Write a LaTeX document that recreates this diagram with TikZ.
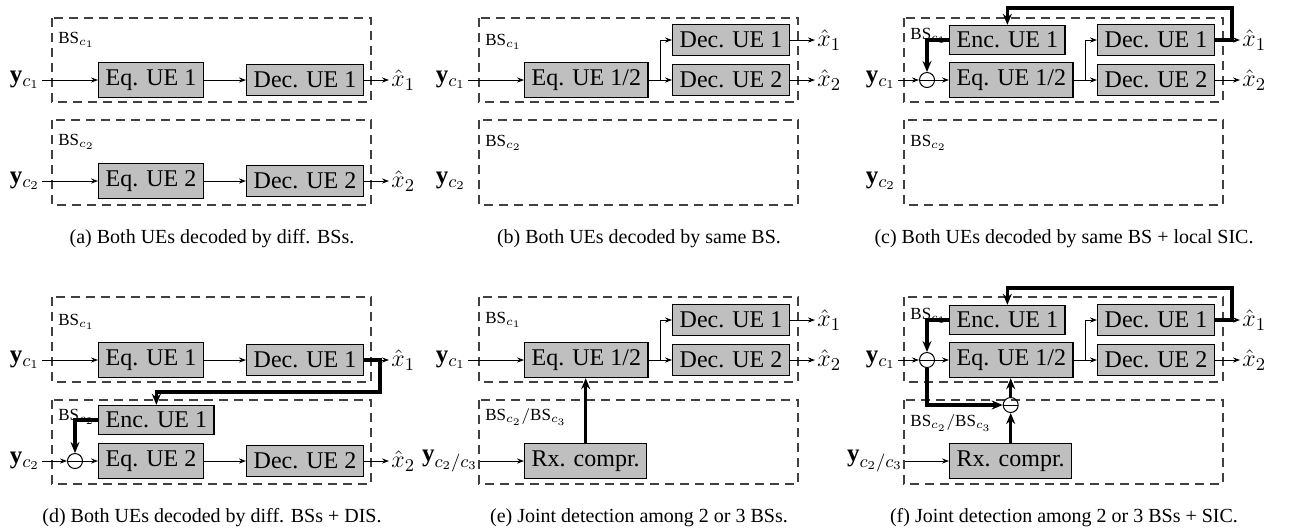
\documentclass[tikz,border=0pt]{standalone}
\usepackage{fontspec}
\setmainfont{Liberation Serif}
\usetikzlibrary{arrows.meta}
\begin{document}
\begin{tikzpicture}[x=0.5pt,y=-0.5pt,
    blk/.style={draw=black,line width=0.7pt,fill=black!25,inner xsep=3.5pt,inner ysep=0pt,anchor=west,font=\fontsize{12}{14}\selectfont},
    eqblk/.style={blk,minimum height=17.5pt},
    decblk/.style={blk,minimum height=15.5pt},
    encblk/.style={blk,minimum height=14.5pt},
    bsbox/.style={draw=black!75,line width=0.6pt,dash pattern=on 4.5pt off 3pt},
    bslabel/.style={anchor=west,inner sep=1pt,font=\fontsize{8.5}{10}\selectfont},
    sig/.style={inner sep=1pt,font=\fontsize{12.5}{14}\selectfont},
    subnode/.style={draw,circle,line width=0.5pt,minimum size=7.5pt,inner sep=0pt,
      path picture={\draw[line width=0.5pt] (path picture bounding box.west) -- (path picture bounding box.east);}},
    link/.style={line width=0.5pt,-{Stealth[length=3.5pt,width=2.6pt]}},
    fat/.style={line width=1.6pt,-{Stealth[length=5.5pt,width=4.5pt]}},
    capt/.style={font=\fontsize{10}{12}\selectfont}]
\useasboundingbox (0,0) rectangle (1306,527);

\begin{scope}
\draw[bsbox] (52,18) rectangle (371,102);
\draw[bsbox] (52,120) rectangle (371,205);
\node[bslabel] at (56,40) {BS$_{c_1}$};
\node[bslabel] at (56,142) {BS$_{c_2}$};
\node[sig,anchor=east] (ay1) at (42,80) {$\mathbf{y}_{c_1}$};
\node[eqblk] (aeq1) at (98,80) {Eq. UE 1};
\node[decblk] (adec1) at (246,80) {Dec. UE 1};
\node[sig,anchor=west] (ax1) at (389,80) {$\hat{x}_1$};
\node[sig,anchor=east] (ay2) at (42,181) {$\mathbf{y}_{c_2}$};
\node[eqblk] (aeq2) at (98,181) {Eq. UE 2};
\node[decblk] (adec2) at (246,181) {Dec. UE 2};
\node[sig,anchor=west] (ax2) at (389,181) {$\hat{x}_2$};
\draw[link] (ay1) -- (aeq1);
\draw[link] (aeq1) -- (adec1);
\draw[link] (adec1) -- (ax1);
\draw[link] (ay2) -- (aeq2);
\draw[link] (aeq2) -- (adec2);
\draw[link] (adec2) -- (ax2);
\node[capt] (capa) at (212,239) {(a) Both UEs decoded by diff. BSs.};
\end{scope}

\begin{scope}[shift={(427,0)}]
\draw[bsbox] (52,18) rectangle (371,102);
\draw[bsbox] (52,120) rectangle (371,205);
\node[bslabel] at (56,42) {BS$_{c_1}$};
\node[bslabel] at (56,143) {BS$_{c_2}$};
\node[sig,anchor=east] (by1) at (41,80) {$\mathbf{y}_{c_1}$};
\node[eqblk] (beq) at (97,80) {Eq. UE 1/2};
\node[decblk] (bdec1) at (245,40) {Dec. UE 1};
\node[decblk] (bdec2) at (245,80) {Dec. UE 2};
\node[sig,anchor=west] (bx1) at (388,40) {$\hat{x}_1$};
\node[sig,anchor=west] (bx2) at (388,80) {$\hat{x}_2$};
\node[sig,anchor=east] (by2) at (41,181) {$\mathbf{y}_{c_2}$};
\draw[link] (by1) -- (beq);
\draw[link] (beq) -- (bdec2);
\draw[link] (beq.east) -- ++(12,0) |- (bdec1.west);
\draw[link] (bdec1) -- (bx1);
\draw[link] (bdec2) -- (bx2);
\node[capt] (capb) at (212,239) {(b) Both UEs decoded by same BS.};
\end{scope}

\begin{scope}[shift={(852,0)}]
\draw[bsbox] (52,18) rectangle (371,102);
\draw[bsbox] (52,120) rectangle (371,205);
\node[bslabel] at (56,36) {BS$_{c_1}$};
\node[bslabel] at (56,143) {BS$_{c_2}$};
\node[sig,anchor=east] (cy1) at (46,80) {$\mathbf{y}_{c_1}$};
\node[subnode] (csub) at (75,80) {};
\node[encblk] (cenc) at (97,40) {Enc. UE 1};
\node[eqblk] (ceq) at (97,80) {Eq. UE 1/2};
\node[decblk] (cdec1) at (245,40) {Dec. UE 1};
\node[decblk] (cdec2) at (245,80) {Dec. UE 2};
\node[sig,anchor=west] (cx1) at (388,40) {$\hat{x}_1$};
\node[sig,anchor=west] (cx2) at (388,80) {$\hat{x}_2$};
\node[sig,anchor=east] (cy2) at (46,181) {$\mathbf{y}_{c_2}$};
\draw[link] (cy1) -- (csub);
\draw[link] (csub) -- (ceq);
\draw[link] (ceq) -- (cdec2);
\draw[link] (ceq.east) -- ++(12,0) |- (cdec1.west);
\draw[link] (cdec1) -- (cx1);
\draw[link] (cdec2) -- (cx2);
\draw[fat] (cdec1.east) -| (380,8) -| (cenc.north);
\draw[fat] (cenc.west) -| (csub.north);
\node[capt] (capc) at (212,239) {(c) Both UEs decoded by same BS + local SIC.};
\end{scope}

\begin{scope}[shift={(0,280)}]
\draw[bsbox] (52,17) rectangle (371,102);
\draw[bsbox] (52,120) rectangle (371,204);
\node[bslabel] at (56,42) {BS$_{c_1}$};
\node[bslabel] at (56,137) {BS$_{c_2}$};
\node[sig,anchor=east] (dy1) at (42,80) {$\mathbf{y}_{c_1}$};
\node[eqblk] (deq1) at (98,80) {Eq. UE 1};
\node[decblk] (ddec1) at (246,80) {Dec. UE 1};
\node[sig,anchor=west] (dx1) at (389,80) {$\hat{x}_1$};
\node[encblk] (denc) at (98,140) {Enc. UE 1};
\node[sig,anchor=east] (dy2) at (42,181) {$\mathbf{y}_{c_2}$};
\node[subnode] (dsub) at (75,181) {};
\node[eqblk] (deq2) at (98,181) {Eq. UE 2};
\node[decblk] (ddec2) at (246,181) {Dec. UE 2};
\node[sig,anchor=west] (dx2) at (389,181) {$\hat{x}_2$};
\draw[link] (dy1) -- (deq1);
\draw[link] (deq1) -- (ddec1);
\draw[link] (ddec1) -- (dx1);
\draw[link] (dy2) -- (dsub);
\draw[link] (dsub) -- (deq2);
\draw[link] (deq2) -- (ddec2);
\draw[link] (ddec2) -- (dx2);
\draw[fat] (ddec1.east) -| (380,112) -| (denc.north);
\draw[fat] (denc.west) -| (dsub.north);
\node[capt] (capd) at (212,238) {(d) Both UEs decoded by diff. BSs + DIS.};
\end{scope}

\begin{scope}[shift={(427,280)}]
\draw[bsbox] (52,17) rectangle (371,102);
\draw[bsbox] (52,120) rectangle (371,204);
\node[bslabel] at (56,40) {BS$_{c_1}$};
\node[bslabel] at (56,137) {BS$_{c_2}/$BS$_{c_3}$};
\node[sig,anchor=east] (ey1) at (41,80) {$\mathbf{y}_{c_1}$};
\node[eqblk] (eeq) at (97,80) {Eq. UE 1/2};
\node[decblk] (edec1) at (245,40) {Dec. UE 1};
\node[decblk] (edec2) at (245,80) {Dec. UE 2};
\node[sig,anchor=west] (ex1) at (388,40) {$\hat{x}_1$};
\node[sig,anchor=west] (ex2) at (388,80) {$\hat{x}_2$};
\node[sig,anchor=east] (ey23) at (53,181) {$\mathbf{y}_{c_2/c_3}$};
\node[eqblk] (erx) at (97,181) {Rx. compr.};
\draw[link] (ey1) -- (eeq);
\draw[link] (eeq) -- (edec2);
\draw[link] (eeq.east) -- ++(12,0) |- (edec1.west);
\draw[link] (edec1) -- (ex1);
\draw[link] (edec2) -- (ex2);
\draw[link] (ey23) -- (erx);
\draw[fat] (erx.north) -- (erx.north |- eeq.south);
\node[capt] (cape) at (212,238) {(e) Joint detection among 2 or 3 BSs.};
\end{scope}

\begin{scope}[shift={(852,280)}]
\draw[bsbox] (52,17) rectangle (371,102);
\draw[bsbox] (52,120) rectangle (371,204);
\node[bslabel] at (56,36) {BS$_{c_1}$};
\node[bslabel] at (56,143) {BS$_{c_2}/$BS$_{c_3}$};
\node[sig,anchor=east] (fy1) at (46,80) {$\mathbf{y}_{c_1}$};
\node[subnode] (fsub1) at (75,80) {};
\node[encblk] (fenc) at (97,40) {Enc. UE 1};
\node[eqblk] (feq) at (97,80) {Eq. UE 1/2};
\node[decblk] (fdec1) at (245,40) {Dec. UE 1};
\node[decblk] (fdec2) at (245,80) {Dec. UE 2};
\node[sig,anchor=west] (fx1) at (388,40) {$\hat{x}_1$};
\node[sig,anchor=west] (fx2) at (388,80) {$\hat{x}_2$};
\node[sig,anchor=east] (fy23) at (53,181) {$\mathbf{y}_{c_2/c_3}$};
\node[eqblk] (frx) at (97,181) {Rx. compr.};
\node[subnode] (fsub2) at (frx.north |- 0,125) {};
\draw[link] (fy1) -- (fsub1);
\draw[link] (fsub1) -- (feq);
\draw[link] (feq) -- (fdec2);
\draw[link] (feq.east) -- ++(12,0) |- (fdec1.west);
\draw[link] (fdec1) -- (fx1);
\draw[link] (fdec2) -- (fx2);
\draw[link] (fy23) -- (frx);
\draw[fat] (fdec1.east) -| (380,8) -| (fenc.north);
\draw[fat] (fenc.west) -| (fsub1.north);
\draw[fat] (fsub1.south) |- (fsub2.west);
\draw[fat] (frx.north) -- (fsub2.south);
\draw[fat] (fsub2.north) -- (fsub2.north |- feq.south);
\node[capt] (capf) at (212,238) {(f) Joint detection among 2 or 3 BSs + SIC.};
\end{scope}
\end{tikzpicture}
\end{document}
